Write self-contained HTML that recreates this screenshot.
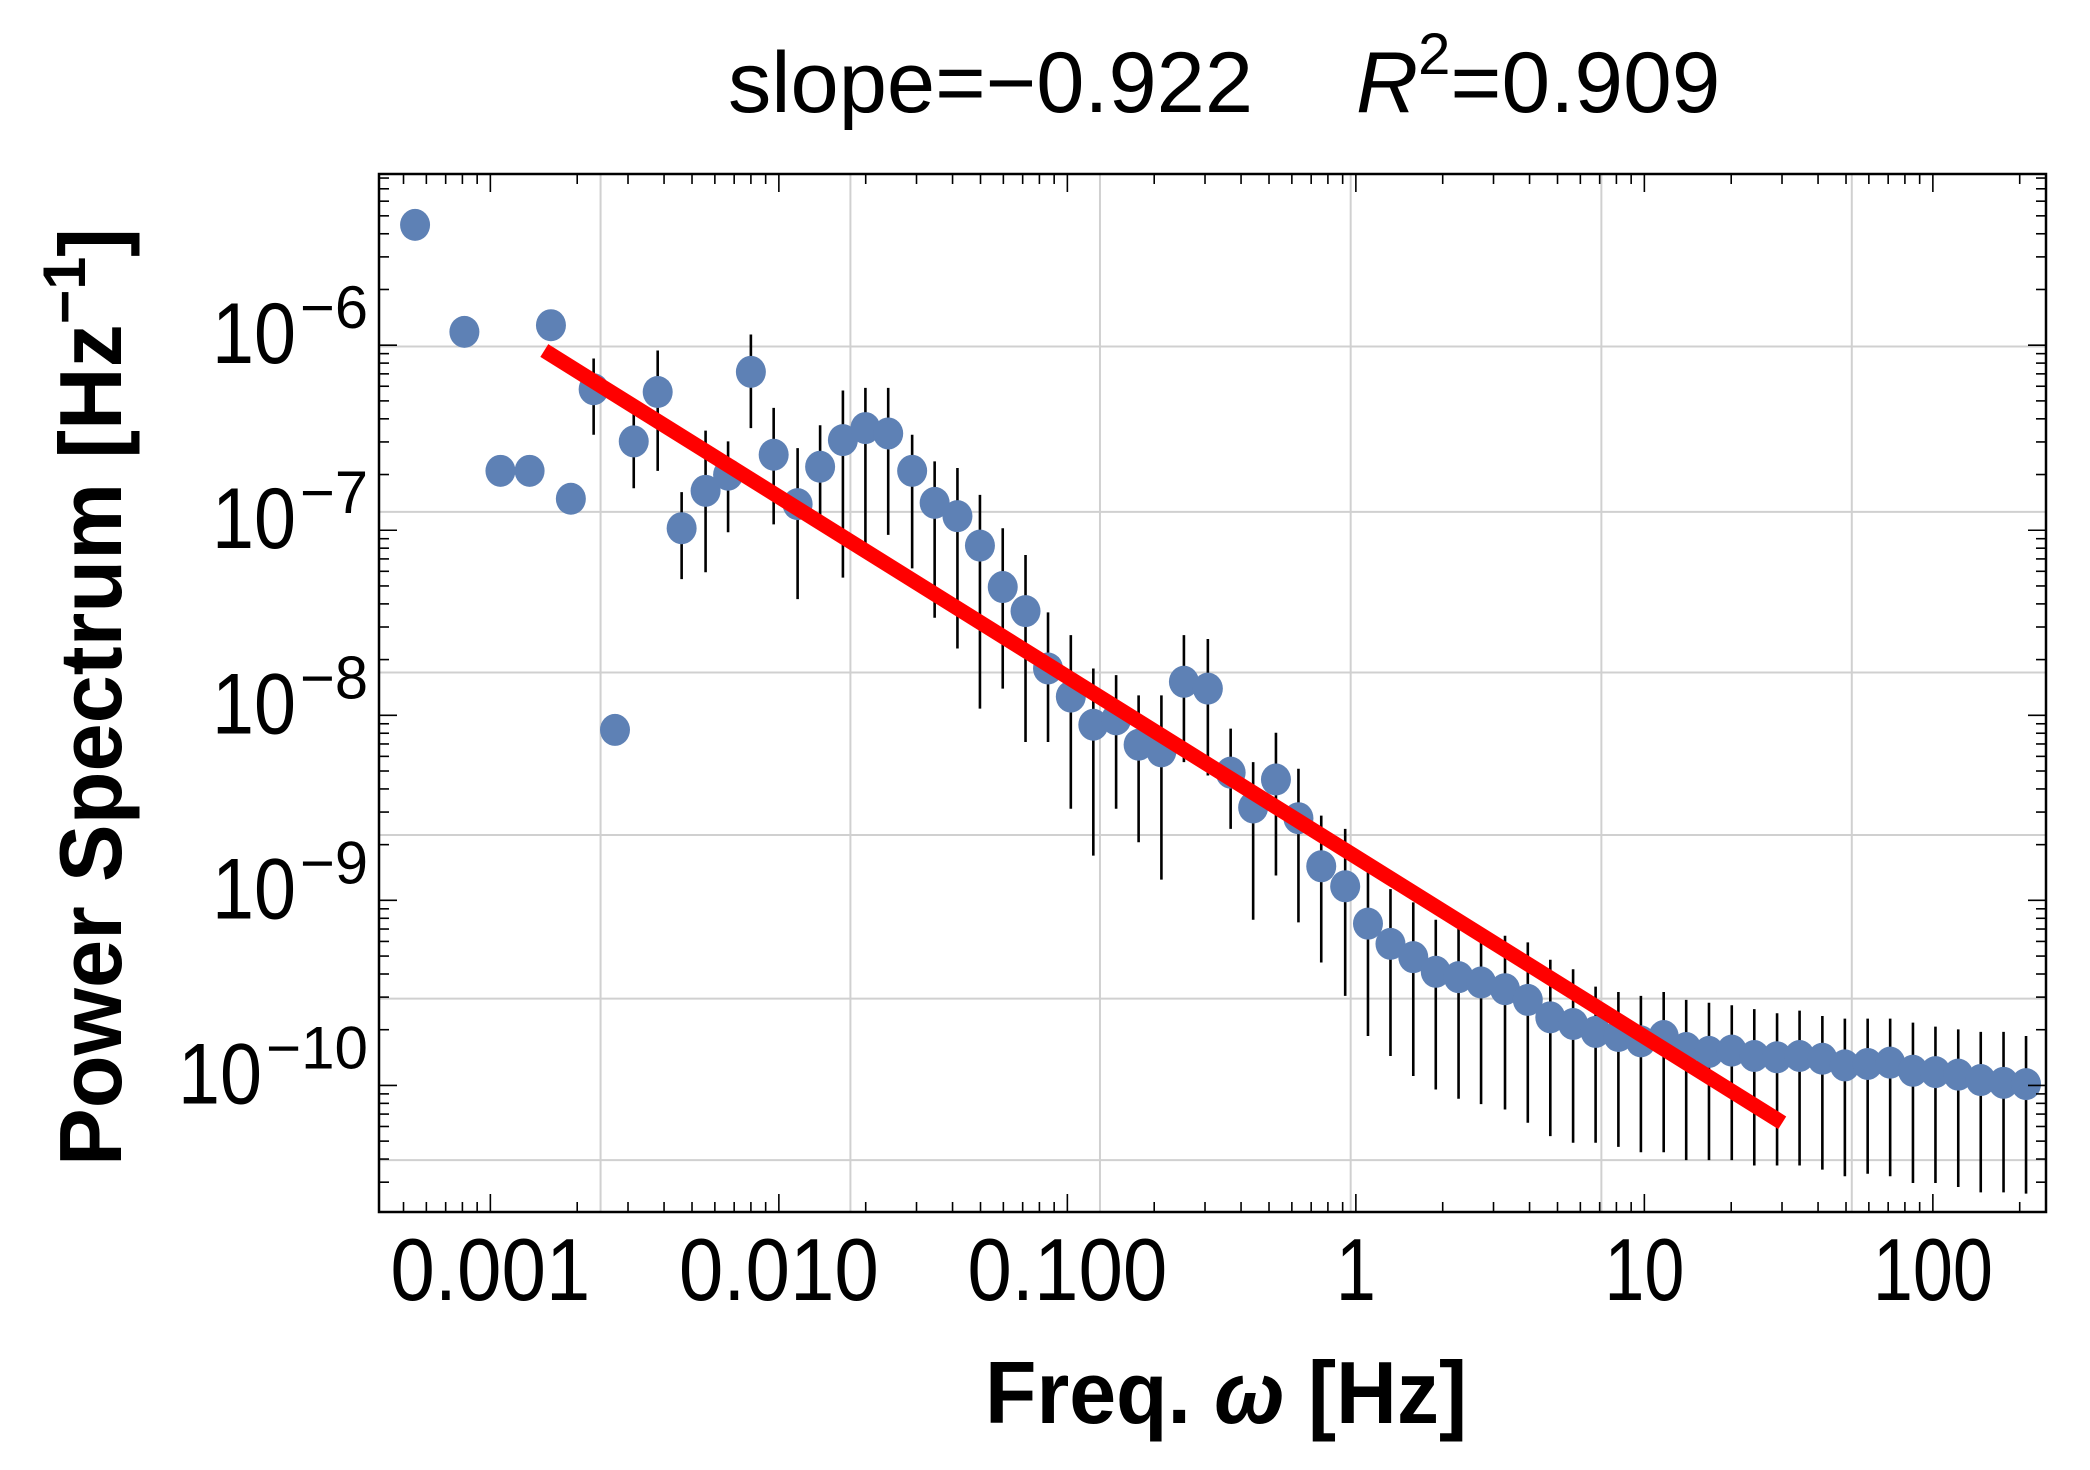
<!DOCTYPE html>
<html><head><meta charset="utf-8"><style>
html,body{margin:0;padding:0;background:#fff;}
svg{display:block;font-family:"Liberation Sans",sans-serif;}
</style></head><body>
<svg id="chart" width="2090" height="1470" viewBox="0 0 2090 1470" xmlns="http://www.w3.org/2000/svg">
<rect width="2090" height="1470" fill="#fff"/>
<g id="grid"></g>
<g id="errbars"></g>
<g id="points"></g>
<g id="fit"></g>
<g id="axes"></g>
<g>
<text x="728" y="112" font-size="86" textLength="525" lengthAdjust="spacingAndGlyphs">slope=−0.922</text>
<text x="1356" y="112" font-size="86"><tspan font-style="italic">R</tspan><tspan font-size="58" dy="-38">2</tspan><tspan dy="38" textLength="270" lengthAdjust="spacingAndGlyphs">=0.909</tspan></text>
</g>
<text x="1226" y="1423" font-size="88" font-weight="bold" text-anchor="middle" textLength="482" lengthAdjust="spacingAndGlyphs">Freq. <tspan font-style="italic">ω</tspan> [Hz]</text>
<text transform="translate(121,697) rotate(-90)" font-size="88" font-weight="bold" text-anchor="middle" textLength="938" lengthAdjust="spacingAndGlyphs">Power Spectrum [Hz<tspan font-size="60" dy="-36">−1</tspan><tspan dy="36">]</tspan></text>
</svg>
<script>
const freqExp = [-3.261,-3.090,-2.965,-2.864,-2.790,-2.721,-2.642,-2.568,-2.503,-2.420,-2.337,-2.254,-2.176,-2.097,-2.018,-1.935,-1.857,-1.778,-1.700,-1.621,-1.538,-1.460,-1.381,-1.303,-1.224,-1.145,-1.067,-0.988,-0.910,-0.831,-0.753,-0.674,-0.596,-0.513,-0.434,-0.356,-0.277,-0.199,-0.120,-0.037,0.042,0.120,0.199,0.277,0.356,0.434,0.517,0.596,0.674,0.753,0.831,0.910,0.988,1.067,1.145,1.224,1.303,1.381,1.460,1.538,1.617,1.695,1.774,1.852,1.931,2.009,2.088,2.166,2.245,2.323];
const powerExp = [-5.350,-5.928,-6.679,-6.679,-5.892,-6.830,-6.238,-8.079,-6.520,-6.253,-6.989,-6.787,-6.700,-6.144,-6.592,-6.859,-6.657,-6.513,-6.448,-6.477,-6.679,-6.852,-6.924,-7.083,-7.307,-7.437,-7.747,-7.899,-8.051,-8.022,-8.159,-8.195,-7.819,-7.856,-8.310,-8.498,-8.347,-8.556,-8.816,-8.924,-9.126,-9.235,-9.307,-9.386,-9.415,-9.444,-9.480,-9.538,-9.632,-9.668,-9.711,-9.733,-9.762,-9.733,-9.798,-9.819,-9.812,-9.841,-9.848,-9.841,-9.856,-9.892,-9.884,-9.877,-9.921,-9.928,-9.942,-9.971,-9.986,-9.993];
const errHiExp = [null,null,null,null,null,null,-6.072,null,-6.289,-6.029,-6.794,-6.462,-6.520,-5.942,-6.339,-6.556,-6.433,-6.245,-6.231,-6.231,-6.484,-6.628,-6.664,-6.809,-6.989,-7.134,-7.444,-7.567,-7.747,-7.783,-7.892,-7.892,-7.567,-7.588,-8.072,-8.253,-8.094,-8.289,-8.542,-8.614,-8.830,-8.939,-9.011,-9.105,-9.155,-9.155,-9.191,-9.227,-9.321,-9.372,-9.466,-9.495,-9.516,-9.495,-9.538,-9.553,-9.567,-9.588,-9.610,-9.596,-9.625,-9.639,-9.639,-9.639,-9.661,-9.682,-9.697,-9.711,-9.711,-9.733];
const errLoExp = [null,null,null,null,null,null,-6.484,null,-6.773,-6.679,-7.264,-7.227,-7.011,-6.448,-6.968,-7.372,-6.968,-7.256,-7.083,-7.025,-7.206,-7.473,-7.639,-7.964,-7.856,-8.144,-8.144,-8.505,-8.758,-8.505,-8.686,-8.888,-8.253,-8.325,-8.614,-9.105,-8.866,-9.119,-9.336,-9.516,-9.733,-9.841,-9.949,-10.022,-10.072,-10.101,-10.130,-10.202,-10.274,-10.310,-10.310,-10.332,-10.361,-10.361,-10.404,-10.404,-10.404,-10.433,-10.433,-10.433,-10.455,-10.491,-10.477,-10.491,-10.527,-10.527,-10.549,-10.578,-10.578,-10.585];
const fitFreqExp = [-2.813, 1.478];
const fitPowerExp = [-6.029, -10.202];
const xTickExp = [-3,-2,-1,0,1,2];
const xTickLabels = ["0.001","0.010","0.100","1","10","100"];
const yTickExp = [-6,-7,-8,-9,-10];
const yTickLabels = ["−6","−7","−8","−9","−10"];
const xGridExp = [-2.618,-1.752,-0.887,-0.018,0.851,1.719];
const yGridExp = [-6.007,-6.901,-7.769,-8.647,-9.531,-10.404];

const L=379,R=2046,T=174,B=1212;
const X0=-3.386,X1=-3.386+(R-L)/288.5,Y0=-10.684,Y1=-5.075;
function sx(v){return L+(v-X0)/(X1-X0)*(R-L);}
function sy(v){return B-(v-Y0)/(Y1-Y0)*(B-T);}
const NS="http://www.w3.org/2000/svg";
function mk(tag,attrs,parent){const e=document.createElementNS(NS,tag);for(const k in attrs)e.setAttribute(k,attrs[k]);parent.appendChild(e);return e;}
const grid=document.getElementById('grid'),eb=document.getElementById('errbars'),pts=document.getElementById('points'),fit=document.getElementById('fit'),axes=document.getElementById('axes');

xGridExp.forEach(v=>{const l=mk('line',{x1:sx(v),x2:sx(v),y1:T,y2:B,stroke:'#d0d0d0','stroke-width':2},grid);

});
yGridExp.forEach(v=>{const l=mk('line',{x1:L,x2:R,y1:sy(v),y2:sy(v),stroke:'#d0d0d0','stroke-width':2},grid);

});

freqExp.forEach((f,i)=>{
  if(errHiExp[i]!==null){const l=mk('line',{x1:sx(f),x2:sx(f),y1:sy(errHiExp[i]),y2:sy(errLoExp[i]),stroke:'#000','stroke-width':2.6},eb);
  
  }
});
freqExp.forEach((f,i)=>{
  const c=mk('ellipse',{cx:sx(f),cy:sy(powerExp[i]),rx:15,ry:16,fill:'#5e81b5'},pts);
  
  
});
const fl=mk('line',{x1:sx(fitFreqExp[0]),y1:sy(fitPowerExp[0]),x2:sx(fitFreqExp[1]),y2:sy(fitPowerExp[1]),stroke:'#ff0000','stroke-width':15},fit);



const fr=mk('rect',{x:L,y:T,width:R-L,height:B-T,fill:'none',stroke:'#000','stroke-width':2.5},axes);


for(let d=-4;d<=2;d++){for(let k=1;k<=9;k++){const v=d+Math.log10(k);if(v<X0||v>X1)continue;const len=k===1?18:10;const x=sx(v);
  const t1=mk('line',{x1:x,x2:x,y1:B,y2:B-len,stroke:'#000','stroke-width':1.6},axes);
  
  
  const t2=mk('line',{x1:x,x2:x,y1:T,y2:T+len,stroke:'#000','stroke-width':1.6},axes);
  
  }}
for(let d=-11;d<=-5;d++){for(let k=1;k<=9;k++){const v=d+Math.log10(k);if(v<Y0||v>Y1)continue;const len=k===1?18:10;const y=sy(v);
  const t1=mk('line',{x1:L,x2:L+len,y1:y,y2:y,stroke:'#000','stroke-width':1.6},axes);
  
  
  const t2=mk('line',{x1:R,x2:R-len,y1:y,y2:y,stroke:'#000','stroke-width':1.6},axes);
  
  }}
xTickExp.forEach((v,i)=>{const t=mk('text',{x:sx(v),y:1300,'font-size':88,'text-anchor':'middle'},axes);
  t.textContent=xTickLabels[i];
  const n=xTickLabels[i].length;t.setAttribute('textLength',n*40);t.setAttribute('lengthAdjust','spacingAndGlyphs');
  
  });
yTickExp.forEach((v,i)=>{const y=sy(v);
  const ew=yTickLabels[i].length*34;
  const e=mk('text',{x:368,y:y-17,'font-size':60,'text-anchor':'end',textLength:ew,lengthAdjust:'spacingAndGlyphs'},axes);
  e.textContent=yTickLabels[i];
  
  
  const t=mk('text',{x:368-ew-4,y:y+18,'font-size':86,'text-anchor':'end',textLength:84,lengthAdjust:'spacingAndGlyphs'},axes);
  t.textContent='10';
  
  });
</script>
</body></html>
